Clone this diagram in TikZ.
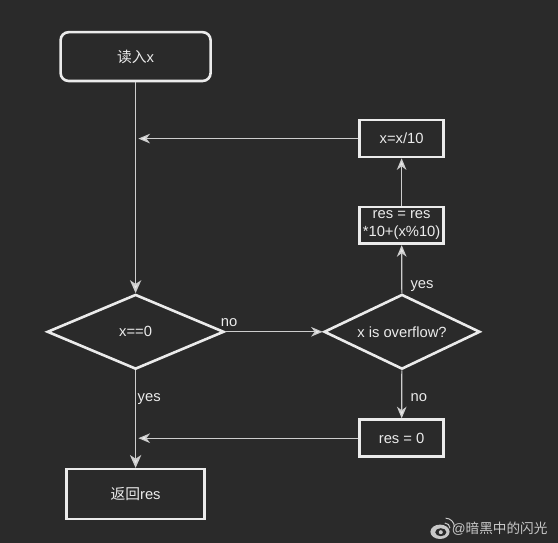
\documentclass[tikz,border=0pt]{standalone}
\usepackage{fontspec}
\setmainfont{Liberation Sans}
\newfontfamily\cjk{Noto Sans CJK SC}
\usetikzlibrary{arrows.meta}
\usetikzlibrary{shapes.geometric}
\definecolor{darkbg}{RGB}{42,42,42}
\definecolor{boxline}{RGB}{235,235,235}
\definecolor{arrowline}{RGB}{205,205,205}
\definecolor{marktext}{RGB}{200,200,200}
\tikzstyle{boxnode}=[draw=boxline,line width=0.65mm,text=boxline,inner sep=0pt,align=center,font=\fontsize{10.5}{12.8}\selectfont]
\tikzstyle{decision}=[boxnode,diamond,aspect=2.1]
\tikzstyle{flow}=[draw=arrowline,line width=0.42mm,-{Stealth[length=3.2mm,width=2.8mm,inset=0.9mm,fill=boxline]}]
\tikzstyle{thinflow}=[draw=arrowline,line width=0.3mm,-{Stealth[length=2.9mm,width=2.4mm,inset=0.9mm,fill=boxline]}]
\tikzstyle{flowtext}=[text=boxline,inner sep=0pt,font=\fontsize{10.5}{13}\selectfont]

\begin{document}
\begin{tikzpicture}
  \useasboundingbox[fill=darkbg] (0,0) rectangle (13.95,13.575);

  \node[boxnode,rounded corners=2mm,minimum width=3.75cm,minimum height=1.22cm] (readx) at (3.39,12.16) {\raisebox{-1.6pt}{{\cjk 读入}x}};
  \node[boxnode,minimum width=2.1cm,minimum height=0.92cm] (divide) at (10.04,10.11) {\raisebox{-0.6pt}{x=x/10}};
  \node[boxnode,minimum width=2.1cm,minimum height=0.92cm] (update) at (10.04,7.94) {res = res\\*10+(x\%10)};
  \node[decision,minimum width=4.42cm,minimum height=1.87cm] (iszero) at (3.39,5.28) {\raisebox{-1pt}{x==0}};
  \node[decision,minimum width=3.9cm,minimum height=1.87cm] (overflow) at (10.05,5.28) {x is overflow?};
  \node[boxnode,minimum width=2.1cm,minimum height=0.93cm] (reszero) at (10.04,2.62) {res = 0};
  \node[boxnode,minimum width=3.45cm,minimum height=1.25cm] (result) at (3.39,1.22) {\raisebox{-1.6pt}{{\cjk 返回}res}};

  \coordinate (upjoin) at (3.46,10.11);
  \coordinate (lowjoin) at (3.46,2.62);

  \draw[flow] (readx) -- (iszero);
  \draw[flow] (iszero) -- (result);
  \draw[thinflow] (iszero) -- (overflow);
  \draw[thinflow] (overflow) -- (update);
  \draw[thinflow] (overflow) -- (reszero);
  \draw[thinflow] (update) -- (divide);
  \draw[thinflow] (divide) -- (upjoin);
  \draw[thinflow] (reszero) -- (lowjoin);

  \node[flowtext] (noleft) at (5.73,5.5) {no};
  \node[flowtext] (yesleft) at (3.73,3.6) {yes};
  \node[flowtext] (yesright) at (10.55,6.42) {yes};
  \node[flowtext] (noright) at (10.47,3.63) {no};

  % watermark
  \node[text=marktext,inner sep=0pt,font=\fontsize{9.7}{12}\selectfont] (mark) at (12.49,0.37) {@{\cjk 暗黑中的闪光}};
  \fill[marktext] (11.0,0.28) ellipse (0.24cm and 0.18cm);
  \fill[darkbg] (11.02,0.27) ellipse (0.14cm and 0.1cm);
  \fill[marktext] (11.02,0.27) circle (0.05cm);
  \draw[marktext,line width=0.25mm] (11.12,0.5) arc (90:0:0.13cm);
  \draw[marktext,line width=0.25mm] (11.14,0.62) arc (90:0:0.22cm);
\end{tikzpicture}
\end{document}
